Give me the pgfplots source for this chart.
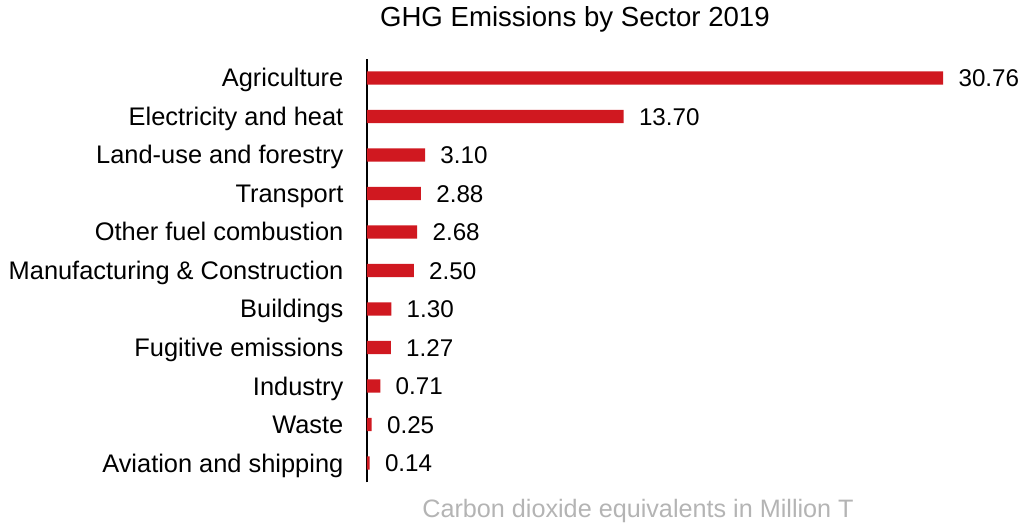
\documentclass[border=0pt]{standalone}
\usepackage{pgfplots}
\pgfplotsset{compat=1.18}
\usepackage{fontspec}
\setmainfont{Liberation Sans}
\definecolor{barred}{HTML}{D01820}
\definecolor{labgray}{HTML}{B4B4B4}
\begin{document}
\begin{tikzpicture}
\path[use as bounding box] (-183.5pt,-21.375pt) rectangle (328pt,241.125pt);
\begin{axis}[
  at={(0,0)}, anchor=south west,
  scale only axis,
  width=299.7pt, height=211.75pt,
  xmin=0, xmax=32, ymin=-0.5, ymax=10.5,
  xbar, bar width=6.6pt,
  axis x line=none,
  axis y line=left,
  y axis line style={-, line width=0.9pt, black},
  ytick={0,...,10},
  yticklabels={Aviation and shipping, Waste, Industry, Fugitive emissions, Buildings, Manufacturing \& Construction, Other fuel combustion, Transport, Land-use and forestry, Electricity and heat, Agriculture},
  ytick style={draw=none},
  yticklabel style={font=\fontsize{12.7}{15}\selectfont, anchor=base east, inner sep=0pt, xshift=-9.5pt, yshift=-4.5pt},
  clip=false,
  nodes near coords,
  point meta=x,
  every node near coord/.append style={font=\fontsize{12.1}{14}\selectfont, anchor=base west, inner sep=0pt, xshift=7.5pt, yshift=-4.3pt,
    /pgf/number format/.cd, fixed, fixed zerofill, precision=2, assume math mode=true},
]
\addplot[fill=barred, draw=none] coordinates {
  (0.14,0) (0.25,1) (0.71,2) (1.27,3) (1.30,4) (2.50,5) (2.68,6) (2.88,7) (3.10,8) (13.70,9) (30.76,10)
};
\node[anchor=base, font=\fontsize{13.8}{16}\selectfont] at (axis cs:11.1,11.325) {GHG Emissions by Sector 2019};
\node[anchor=base, text=labgray, font=\fontsize{12.6}{15}\selectfont] at (axis cs:14.47,-1.403) {Carbon dioxide equivalents in Million T};
\end{axis}
\end{tikzpicture}
\end{document}
